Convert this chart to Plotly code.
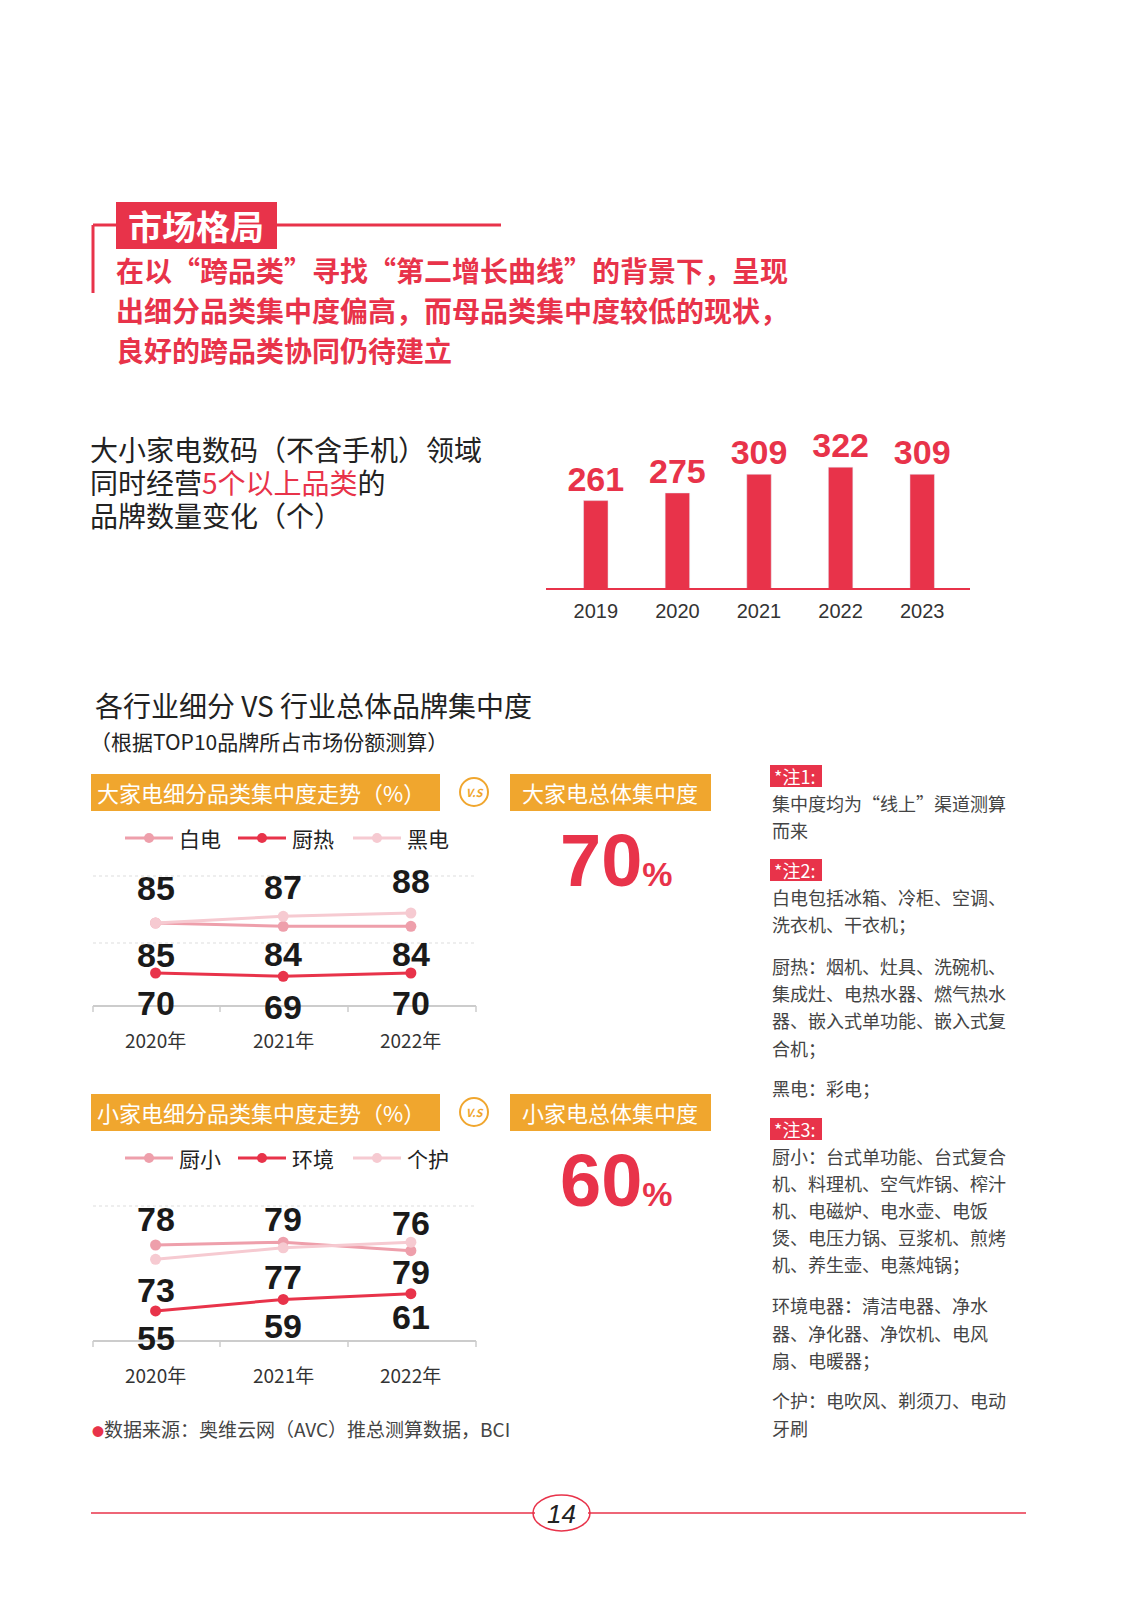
import plotly.graph_objects as go

W, H = 1133, 1615
FONT = "Noto Sans CJK SC"
RED = "#E8334A"; MID = "#EE9FAB"; LIGHT = "#F6CAD1"; ORANGE = "#F0A62E"; GRAY = "#444444"

bar_years = ["2019", "2020", "2021", "2022", "2023"]
bar_values = [261, 275, 309, 322, 309]

line_years = ["2020年", "2021年", "2022年"]
big_names = ["白电", "厨热", "黑电"]
big_white = [85, 84, 84]
big_kitchen = [70, 69, 70]
big_black = [85, 87, 88]
small_names = ["厨小", "环境", "个护"]
small_kitchen = [78, 79, 76]
small_env = [55, 59, 61]
small_care = [73, 77, 79]
big_total = 70
small_total = 60

def px(x): return x / W
def py(y): return 1 - y / H

fig = go.Figure()
ann = []
shapes = []

def T(text, x, y, size, color=GRAY, bold=False, xanchor="left", xref="paper", family=FONT):
    if bold:
        text = "<b>" + text + "</b>"
    ann.append(dict(text=text, x=px(x) if xref == "paper" else x, y=py(y), xref=xref, yref="paper",
                    xanchor=xanchor, yanchor="middle", showarrow=False,
                    font=dict(size=size, color=color, family=family)))

def rect(x0, y0, x1, y1, color, line=None):
    shapes.append(dict(type="rect", xref="paper", yref="paper", x0=px(x0), x1=px(x1), y0=py(y1), y1=py(y0),
                       fillcolor=color, line=dict(width=0) if line is None else line, layer="below"))

def hline(x0, x1, y, color, width=2, dash="solid"):
    shapes.append(dict(type="line", xref="paper", yref="paper", x0=px(x0), x1=px(x1), y0=py(y), y1=py(y),
                       line=dict(color=color, width=width, dash=dash)))

def vline(x, y0, y1, color, width=2):
    shapes.append(dict(type="line", xref="paper", yref="paper", x0=px(x), x1=px(x), y0=py(y0), y1=py(y1),
                       line=dict(color=color, width=width)))

# Header
shapes.append(dict(type="rect", xref="paper", yref="paper", x0=px(108), x1=px(269), y0=py(241), y1=py(194),
                   fillcolor=RED, line=dict(color=RED, width=0)))
T("市场格局", 188, 217, 34, "white", True, "center")
hline(269, 493, 217, RED, 3)
hline(85, 108, 217, RED, 3)
vline(85, 217, 285, RED, 3)
for i, s in enumerate(["在以“跨品类”寻找“第二增长曲线”的背景下，呈现",
                       "出细分品类集中度偏高，而母品类集中度较低的现状，",
                       "良好的跨品类协同仍待建立"]):
    T(s, 106, 262 + 40 * i, 28, RED, True)

# Bar chart intro
T("大小家电数码（不含手机）领域", 80, 441, 28, "#222")
T("同时经营<span style='color:%s'>5个以上品类</span>的" % RED, 80, 474, 28, "#222")
T("品牌数量变化（个）", 80, 507, 28, "#222")

fig.add_trace(go.Bar(x=bar_years, y=bar_values, marker_color=RED, width=0.3,
                     text=bar_values, textposition="outside", cliponaxis=False, constraintext="none",
                     textfont=dict(size=34, color=RED, family="Arial, " + FONT),
                     texttemplate="<b>%{text}</b>", xaxis="x", yaxis="y"))
hline(538, 962, 581, RED, 2)

# Section title
T("各行业细分 VS 行业总体品牌集中度", 85, 697, 28, "#222")
T("（根据TOP10品牌所占市场份额测算）", 80, 733, 21, "#222")

def block(y_box, title, total_title, total, names, series, colors, axis, label_rows, y_axis_line):
    rect(83, y_box - 18, 432, y_box + 19, ORANGE)
    T(title, 87, y_box, 22, "white")
    rect(502, y_box - 18, 703, y_box + 19, ORANGE)
    T(total_title, 602, y_box, 22, "white", False, "center")
    shapes.append(dict(type="circle", xref="paper", yref="paper", x0=px(452), x1=px(480),
                       y0=py(y_box + 14), y1=py(y_box - 14), line=dict(color=ORANGE, width=2)))
    T("<i>V.S</i>", 466, y_box, 11, ORANGE, True, "center")
    T("%d<span style='font-size:34px'>%%</span>" % total, 608, y_box + 68, 74, RED, True, "center",
      family="Arial, " + FONT)
    ly = y_box + 46
    for k, (nm, c) in enumerate(zip(names, colors)):
        x0 = [117, 230, 345][k]
        hline(x0, x0 + 48, ly, c, 3)
        shapes.append(dict(type="circle", xref="paper", yref="paper", x0=px(x0 + 19), x1=px(x0 + 29),
                           y0=py(ly + 5), y1=py(ly - 5), fillcolor=c, line=dict(width=0)))
        T(nm, x0 + 52, ly, 21, "#222")
    for s, c, nm in zip(series, colors, names):
        fig.add_trace(go.Scatter(x=[0, 1, 2], y=s, mode="lines+markers", name=nm,
                                 line=dict(color=c, width=3), marker=dict(size=11, color=c),
                                 xaxis="x" + axis, yaxis="y" + axis, showlegend=False))
    for row_ys, vals in label_rows:
        for i, v in enumerate(vals):
            ann.append(dict(text="<b>%d</b>" % v, x=i, y=py(row_ys[i]), xref="x" + axis, yref="paper",
                            showarrow=False, xanchor="center", yanchor="middle",
                            font=dict(size=34, color="#1a1a1a", family="Arial, " + FONT)))
    hline(85, 468, y_axis_line, "#cccccc", 2)
    for tx in [85, 212, 340, 468]:
        vline(tx, y_axis_line, y_axis_line + 6, "#cccccc", 1.5)
    for i, yl in enumerate(line_years):
        ann.append(dict(text=yl, x=i, y=py(y_axis_line + 33), xref="x" + axis, yref="paper",
                        showarrow=False, xanchor="center", yanchor="middle",
                        font=dict(size=19, color="#333", family=FONT)))

block(784, "大家电细分品类集中度走势（%）", "大家电总体集中度", big_total, big_names,
      [big_white, big_kitchen, big_black], [MID, RED, LIGHT], "2",
      [([880, 879, 873], big_black), ([947, 946, 946], big_white), ([995, 999, 995], big_kitchen)], 998)
hline(85, 468, 868, "#dddddd", 1, "dot")
hline(85, 468, 935, "#dddddd", 1, "dot")

block(1104, "小家电细分品类集中度走势（%）", "小家电总体集中度", small_total, small_names,
      [small_kitchen, small_env, small_care], [MID, RED, LIGHT], "3",
      [([1211, 1211, 1215], small_kitchen), ([1282, 1269, 1264], small_care), ([1330, 1318, 1309], small_env)], 1333)
hline(85, 468, 1198, "#dddddd", 1, "dot")

T("<span style='color:%s;font-size:12px'>●</span>数据来源：奥维云网（AVC）推总测算数据，BCI" % RED, 82, 1420, 19, GRAY)

notes = [
    (768, "*注1:", True), (795, "集中度均为“线上”渠道测算", False), (822, "而来", False),
    (862, "*注2:", True), (889, "白电包括冰箱、冷柜、空调、", False), (916, "洗衣机、干衣机；", False),
    (958, "厨热：烟机、灶具、洗碗机、", False), (985, "集成灶、电热水器、燃气热水", False),
    (1012, "器、嵌入式单功能、嵌入式复", False), (1040, "合机；", False),
    (1080, "黑电：彩电；", False), (1121, "*注3:", True),
    (1148, "厨小：台式单功能、台式复合", False), (1175, "机、料理机、空气炸锅、榨汁", False),
    (1202, "机、电磁炉、电水壶、电饭", False), (1229, "煲、电压力锅、豆浆机、煎烤", False),
    (1256, "机、养生壶、电蒸炖锅；", False), (1297, "环境电器：清洁电器、净水", False),
    (1325, "器、净化器、净饮机、电风", False), (1352, "扇、电暖器；", False),
    (1392, "个护：电吹风、剃须刀、电动", False), (1420, "牙刷", False),
]
for y, s, tag in notes:
    if tag:
        rect(762, y - 11, 814, y + 11, RED)
        T(s, 764, y, 18, "white")
    else:
        T(s, 762, y, 18, GRAY)

# Footer
hline(83, 527, 1505, RED, 1.5)
hline(580, 1018, 1505, RED, 1.5)
shapes.append(dict(type="circle", xref="paper", yref="paper", x0=px(525), x1=px(582), y0=py(1523), y1=py(1487),
                   line=dict(color=RED, width=1.5)))
T("<i>14</i>", 553, 1506, 26, "#222", False, "center", family="Arial")

fig.update_layout(
    width=W, height=H, margin=dict(l=0, r=0, t=0, b=0),
    paper_bgcolor="white", plot_bgcolor="rgba(0,0,0,0)", showlegend=False,
    font=dict(family=FONT),
    xaxis=dict(domain=[px(547), px(955)], showgrid=False, zeroline=False, showline=False, ticks="",
               tickfont=dict(size=20, color="#333", family="Arial"), ticklabelstandoff=8, anchor="y"),
    yaxis=dict(domain=[py(581), py(452)], range=[100, 335], visible=False, anchor="x"),
    xaxis2=dict(domain=[px(85), px(468)], range=[-0.49, 2.51], visible=False, anchor="y2"),
    yaxis2=dict(domain=[py(998), py(860)], range=[60.1, 101.5], visible=False, anchor="x2"),
    xaxis3=dict(domain=[px(85), px(468)], range=[-0.49, 2.51], visible=False, anchor="y3"),
    yaxis3=dict(domain=[py(1333), py(1190)], range=[44.5, 94.4], visible=False, anchor="x3"),
    annotations=ann, shapes=shapes,
)
fig.write_html("out.html")
